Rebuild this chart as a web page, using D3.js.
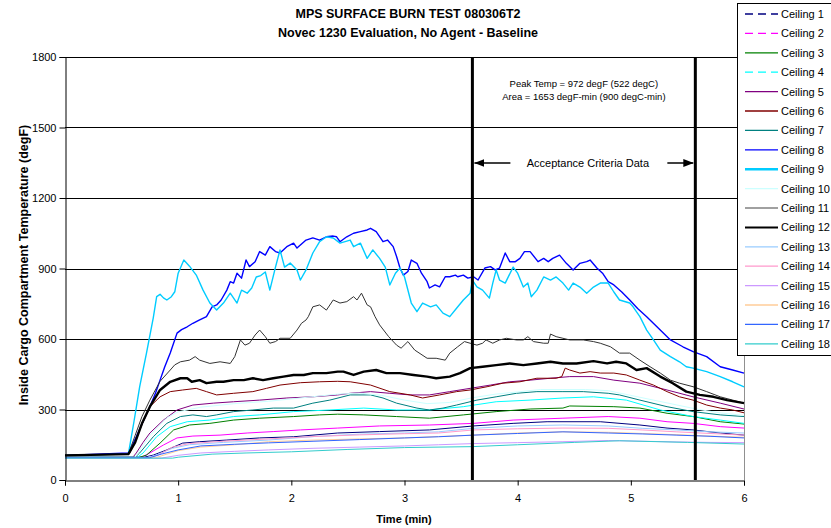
<!DOCTYPE html>
<html>
<head>
<meta charset="utf-8">
<script src="https://cdn.jsdelivr.net/npm/d3@7/dist/d3.min.js"></script>
<style>
  html, body { margin: 0; padding: 0; background: #fff; }
  svg { display: block; font-family: "Liberation Sans", Arial, sans-serif; }
</style>
</head>
<body>
<svg id="chart" width="831" height="528"></svg>
<script>
// Ceiling thermocouple temperatures, [time (min), temperature (degF)]
const ceiling1 = [[0,97],[0.70,97],[0.78,106],[0.90,128],[1.04,157],[1.19,163],[1.43,170],[1.72,179],[2.02,184],[2.41,200],[2.78,206],[3.22,213],[3.61,230],[3.96,241],[4.26,248],[4.73,248],[5.08,234],[5.32,221],[5.55,213],[5.79,200],[6.0,191]];
const ceiling2 = [[0,97],[0.68,97],[0.75,115],[0.87,149],[0.99,179],[1.13,187],[1.37,191],[1.61,200],[1.84,206],[2.08,213],[2.41,221],[2.78,230],[3.22,234],[3.61,241],[3.96,255],[4.40,263],[4.80,270],[5.08,263],[5.32,248],[5.55,241],[5.79,227],[6.0,221]];
const ceiling3 = [[0,97],[0.66,97],[0.72,106],[0.84,157],[0.96,213],[1.10,234],[1.28,241],[1.49,255],[1.72,263],[2.02,270],[2.25,277],[2.41,280],[2.64,277],[2.93,270],[3.22,263],[3.52,277],[3.81,291],[4.11,302],[4.40,306],[4.46,315],[4.85,312],[5.08,306],[5.32,284],[5.55,270],[5.79,248],[6.0,238]];
const ceiling4 = [[0,97],[0.64,97],[0.69,115],[0.81,184],[0.93,227],[1.08,248],[1.28,255],[1.49,270],[1.72,277],[2.02,291],[2.34,298],[2.64,306],[2.93,298],[3.22,298],[3.52,312],[3.81,333],[4.11,340],[4.40,349],[4.67,354],[4.96,340],[5.26,298],[5.55,270],[5.79,255],[6.0,241]];
const ceiling5 = [[0,97],[0.60,97],[0.63,115],[0.69,160],[0.75,200],[0.87,255],[0.99,298],[1.13,319],[1.31,327],[1.49,333],[1.72,340],[1.96,349],[2.19,354],[2.41,362],[2.52,369],[2.70,376],[2.87,369],[3.05,362],[3.22,362],[3.40,376],[3.58,390],[3.76,404],[3.93,418],[4.11,425],[4.29,433],[4.46,440],[4.67,440],[4.85,425],[5.08,412],[5.32,383],[5.55,354],[5.79,327],[6.0,302]];
const ceiling6 = [[0,105],[0.57,112],[0.62,160],[0.66,213],[0.75,312],[0.84,354],[0.93,376],[1.04,383],[1.16,390],[1.25,376],[1.34,362],[1.49,369],[1.66,376],[1.78,390],[1.90,404],[2.08,414],[2.25,418],[2.41,420],[2.52,418],[2.70,404],[2.87,376],[3.05,362],[3.16,349],[3.31,362],[3.46,376],[3.58,383],[3.73,397],[3.87,412],[4.02,418],[4.17,433],[4.34,433],[4.39,440],[4.42,476],[4.46,468],[4.55,455],[4.64,461],[4.73,455],[4.85,455],[4.96,447],[5.08,425],[5.20,404],[5.32,376],[5.43,354],[5.55,340],[5.67,319],[5.79,306],[5.90,298],[6.0,286]];
const ceiling7 = [[0,97],[0.62,97],[0.66,115],[0.78,184],[0.90,241],[1.02,270],[1.13,277],[1.25,270],[1.34,277],[1.49,291],[1.66,298],[1.84,306],[2.02,306],[2.19,327],[2.34,340],[2.52,362],[2.70,362],[2.81,349],[2.93,327],[3.11,306],[3.22,298],[3.34,306],[3.46,319],[3.64,340],[3.81,354],[3.99,369],[4.17,376],[4.40,376],[4.58,376],[4.80,369],[4.90,362],[5.08,340],[5.32,312],[5.55,291],[5.79,277],[6.0,270]];
const ceiling8 = [[0,105],[0.56,115],[0.63,184],[0.69,250],[0.75,312],[0.80,370],[0.84,425],[0.88,480],[0.93,540],[0.99,625],[1.03,640],[1.08,652],[1.13,667],[1.19,681],[1.25,695],[1.30,737],[1.34,745],[1.38,766],[1.43,808],[1.46,844],[1.49,838],[1.52,880],[1.56,859],[1.60,936],[1.63,908],[1.68,929],[1.72,972],[1.77,957],[1.81,993],[1.86,972],[1.90,966],[1.96,993],[2.02,1008],[2.05,987],[2.13,1021],[2.19,1030],[2.25,1021],[2.31,1035],[2.37,1038],[2.40,1035],[2.43,1014],[2.49,1035],[2.55,1050],[2.61,1057],[2.67,1064],[2.70,1071],[2.75,1057],[2.81,1014],[2.85,1021],[2.90,993],[2.93,951],[2.96,902],[2.99,872],[3.03,887],[3.06,936],[3.11,922],[3.15,880],[3.20,844],[3.22,817],[3.27,830],[3.31,822],[3.36,865],[3.40,865],[3.45,872],[3.47,865],[3.52,872],[3.56,859],[3.61,865],[3.65,851],[3.71,902],[3.76,908],[3.80,894],[3.84,902],[3.89,966],[3.93,929],[3.98,929],[4.02,943],[4.06,972],[4.11,972],[4.18,929],[4.23,943],[4.27,929],[4.31,943],[4.37,957],[4.43,922],[4.49,894],[4.55,922],[4.61,929],[4.64,936],[4.70,902],[4.75,880],[4.80,844],[4.85,830],[4.92,800],[4.99,766],[5.06,730],[5.14,695],[5.26,638],[5.35,596],[5.46,567],[5.55,546],[5.67,525],[5.79,482],[5.90,468],[6.0,455]];
const ceiling9 = [[0,105],[0.56,110],[0.61,250],[0.66,397],[0.72,540],[0.78,690],[0.81,780],[0.84,790],[0.87,775],[0.90,766],[0.94,780],[0.97,801],[1.00,880],[1.05,936],[1.10,910],[1.16,872],[1.22,808],[1.28,753],[1.34,723],[1.40,753],[1.46,795],[1.52,753],[1.56,808],[1.61,795],[1.65,817],[1.69,864],[1.73,870],[1.77,885],[1.81,808],[1.86,906],[1.90,979],[1.94,906],[1.99,923],[2.05,894],[2.08,851],[2.13,894],[2.19,966],[2.25,1014],[2.31,1035],[2.37,1030],[2.43,1008],[2.52,1021],[2.55,993],[2.61,1008],[2.67,943],[2.72,979],[2.78,943],[2.83,906],[2.87,830],[2.92,880],[2.96,902],[3.00,864],[3.06,753],[3.11,716],[3.16,753],[3.23,737],[3.28,745],[3.34,710],[3.40,695],[3.46,731],[3.52,766],[3.58,795],[3.60,851],[3.64,822],[3.69,808],[3.75,774],[3.78,838],[3.81,894],[3.84,851],[3.89,838],[3.96,906],[4.00,880],[4.05,821],[4.09,838],[4.12,780],[4.17,808],[4.23,864],[4.29,851],[4.34,864],[4.40,838],[4.45,808],[4.49,838],[4.55,821],[4.61,795],[4.67,821],[4.73,838],[4.80,838],[4.85,800],[4.90,766],[4.99,753],[5.02,737],[5.08,695],[5.14,638],[5.20,596],[5.26,553],[5.35,525],[5.43,503],[5.49,482],[5.55,476],[5.67,461],[5.79,440],[5.90,418],[6.0,396]];
const ceiling10 = [[0,97],[0.62,97],[0.75,190],[0.90,265],[1.00,290],[1.20,310],[1.50,325],[1.80,335],[2.00,345],[2.20,355],[2.40,365],[2.60,370],[2.80,360],[3.00,340],[3.20,325],[3.40,330],[3.60,350],[3.80,365],[4.00,375],[4.20,385],[4.40,385],[4.60,385],[4.80,380],[5.00,360],[5.20,340],[5.40,320],[5.60,300],[5.80,285],[6.0,275]];
const ceiling11 = [[0,105],[0.56,110],[0.62,190],[0.68,270],[0.75,340],[0.84,420],[0.93,468],[0.97,490],[1.02,503],[1.10,510],[1.15,525],[1.19,510],[1.28,496],[1.37,503],[1.46,496],[1.50,525],[1.55,596],[1.59,574],[1.63,582],[1.68,617],[1.72,638],[1.77,610],[1.81,582],[1.86,589],[1.90,603],[1.99,603],[2.05,638],[2.09,667],[2.13,681],[2.15,695],[2.19,737],[2.25,745],[2.31,723],[2.37,766],[2.43,753],[2.49,759],[2.55,780],[2.58,766],[2.62,795],[2.67,745],[2.70,737],[2.74,695],[2.78,660],[2.86,610],[2.93,574],[2.97,561],[3.03,589],[3.09,553],[3.20,518],[3.28,518],[3.36,510],[3.40,540],[3.47,567],[3.53,589],[3.58,582],[3.64,574],[3.69,582],[3.72,596],[3.78,582],[3.84,596],[3.90,603],[3.99,596],[4.05,596],[4.09,610],[4.14,589],[4.23,582],[4.27,582],[4.29,621],[4.34,610],[4.40,603],[4.46,596],[4.58,596],[4.67,589],[4.73,582],[4.82,567],[4.90,540],[4.99,540],[5.08,510],[5.17,482],[5.26,455],[5.35,425],[5.43,412],[5.55,397],[5.67,376],[5.79,354],[5.90,340],[6.0,327]];
const ceiling12 = [[0,105],[0.56,110],[0.62,160],[0.68,240],[0.75,312],[0.84,383],[0.93,418],[1.02,433],[1.08,433],[1.12,418],[1.19,425],[1.25,412],[1.34,418],[1.40,418],[1.49,425],[1.58,425],[1.66,433],[1.75,425],[1.84,433],[1.93,440],[2.02,447],[2.11,447],[2.19,455],[2.31,455],[2.41,461],[2.46,461],[2.55,447],[2.64,461],[2.75,468],[2.84,455],[2.96,455],[3.08,447],[3.20,440],[3.28,433],[3.40,440],[3.49,455],[3.58,476],[3.69,482],[3.81,489],[3.93,496],[4.05,489],[4.17,496],[4.29,503],[4.40,496],[4.52,496],[4.67,506],[4.79,496],[4.87,503],[4.96,496],[5.05,468],[5.14,476],[5.26,440],[5.37,412],[5.49,376],[5.61,362],[5.73,354],[5.85,340],[6.0,327]];
const ceiling13 = [[0,95],[0.72,95],[0.80,105],[0.95,135],[1.10,150],[1.40,160],[1.80,170],[2.20,185],[2.60,195],[3.00,200],[3.30,205],[3.61,220],[4.00,230],[4.40,234],[4.80,230],[5.10,220],[5.40,213],[5.70,205],[6.0,200]];
const ceiling14 = [[0,95],[0.74,95],[0.82,105],[0.95,140],[1.10,155],[1.40,165],[1.80,175],[2.20,185],[2.60,192],[3.00,197],[3.30,200],[3.61,213],[4.00,218],[4.40,221],[4.80,220],[5.10,213],[5.40,205],[5.70,198],[6.0,191]];
const ceiling15 = [[0,93],[0.85,93],[1.00,105],[1.20,115],[1.50,122],[1.80,128],[2.20,135],[2.60,140],[3.00,145],[3.30,150],[3.61,155],[4.00,159],[4.40,163],[4.80,168],[5.10,165],[5.40,162],[5.70,160],[6.0,159]];
const ceiling16 = [[0,95],[0.80,95],[0.90,110],[1.00,125],[1.20,140],[1.50,150],[1.80,163],[2.20,170],[2.60,175],[3.00,179],[3.30,185],[3.61,191],[4.00,200],[4.40,205],[4.80,203],[5.10,198],[5.40,193],[5.70,187],[6.0,182]];
const ceiling17 = [[0,95],[0.75,95],[0.85,110],[1.00,128],[1.20,145],[1.50,152],[1.80,158],[2.20,165],[2.60,172],[3.00,179],[3.30,184],[3.61,191],[4.00,198],[4.40,205],[4.80,200],[5.10,196],[5.40,191],[5.70,186],[6.0,179]];
const ceiling18 = [[0,93],[0.95,93],[1.00,97],[1.30,110],[1.60,115],[2.00,120],[2.50,130],[3.00,138],[3.60,142],[4.00,150],[4.50,160],[4.90,167],[5.50,160],[6.0,153]];

const seriesNames = ["Ceiling 1","Ceiling 2","Ceiling 3","Ceiling 4","Ceiling 5","Ceiling 6","Ceiling 7","Ceiling 8","Ceiling 9","Ceiling 10","Ceiling 11","Ceiling 12","Ceiling 13","Ceiling 14","Ceiling 15","Ceiling 16","Ceiling 17","Ceiling 18"];
const seriesData = [ceiling1, ceiling2, ceiling3, ceiling4, ceiling5, ceiling6, ceiling7, ceiling8, ceiling9, ceiling10, ceiling11, ceiling12, ceiling13, ceiling14, ceiling15, ceiling16, ceiling17, ceiling18];

const xTicks = [0, 1, 2, 3, 4, 5, 6];
const yTicks = [0, 300, 600, 900, 1200, 1500, 1800];
const windowStart = 3.6;   // acceptance criteria window (min)
const windowEnd = 5.57;

// Line styling per series
const colors = ["#000080","#FF00FF","#008000","#00FFFF","#800080","#800000","#008080","#0000FF","#00CCFF","#CCFFFF","#333333","#000000","#99CCFF","#FF99CC","#CC99FF","#FFCC99","#3366FF","#33CCCC"];
const legendColors = ["#000080","#FF00FF","#008000","#00FFFF","#800080","#800000","#008080","#0000FF","#00CCFF","#CCFFFF","#808080","#000000","#99CCFF","#FF99CC","#CC99FF","#FFCC99","#3366FF","#33CCCC"];
const widths = [1,1,1,1,1,1,1,1.4,1.4,1,1,2.4,1,1,1,1,1,1];
const dashed = [true,true,false,true,false,false,false,false,false,false,false,false,false,false,false,false,false,false];

const svg = d3.select("#chart");
const plotLeft = 65, plotRight = 744, plotTop = 57, plotBottom = 480;

const x = d3.scaleLinear().domain([0, 6]).range([plotLeft, plotRight]);
const y = d3.scaleLinear().domain([0, 1800]).range([plotBottom, plotTop]);

// Plot area border (right side grey)
svg.append("line").attr("x1", plotRight + 0.5).attr("x2", plotRight + 0.5)
  .attr("y1", plotTop).attr("y2", plotBottom).attr("stroke", "#909090").attr("stroke-width", 1);

// Horizontal gridlines
svg.append("g").selectAll("line").data(yTicks.filter(d => d > 0)).join("line")
  .attr("x1", plotLeft).attr("x2", plotRight)
  .attr("y1", d => Math.round(y(d)) + 0.5).attr("y2", d => Math.round(y(d)) + 0.5)
  .attr("stroke", "#000").attr("stroke-width", 1);

// Series lines
const line = d3.line().x(d => x(d[0])).y(d => y(d[1]));
svg.append("g").selectAll("path").data(seriesData).join("path")
  .attr("d", d => line(d))
  .attr("fill", "none")
  .attr("stroke", (d, i) => colors[i])
  .attr("stroke-width", (d, i) => widths[i])
  .attr("stroke-linejoin", "round");

// Acceptance window boundaries
[windowStart, windowEnd].forEach(t => {
  svg.append("line").attr("x1", x(t)).attr("x2", x(t))
    .attr("y1", plotTop).attr("y2", plotBottom)
    .attr("stroke", "#000").attr("stroke-width", 3);
});

// Axes
const yAxis = d3.axisLeft(y).tickValues(yTicks).tickFormat(d3.format("d")).tickSize(6).tickPadding(3);
const gy = svg.append("g").attr("transform", `translate(${plotLeft + 0.5},0)`).call(yAxis);
gy.select(".domain").attr("stroke", "#000");
gy.selectAll(".tick line").attr("stroke", "#000");
gy.selectAll("text").attr("font-size", 11).attr("fill", "#000").attr("font-family", "Liberation Sans, Arial, sans-serif");

const xAxis = d3.axisBottom(x).tickValues(xTicks).tickFormat(d3.format("d")).tickSize(5).tickPadding(9);
const gx = svg.append("g").attr("transform", `translate(0,${plotBottom + 0.5})`).call(xAxis);
gx.select(".domain").attr("stroke", "#000");
gx.selectAll(".tick line").attr("stroke", "#000");
gx.selectAll("text").attr("font-size", 11).attr("fill", "#000").attr("font-family", "Liberation Sans, Arial, sans-serif");

// Titles
svg.append("text").attr("x", 408).attr("y", 18).attr("text-anchor", "middle")
  .attr("font-size", 12.5).attr("font-weight", "bold").text("MPS SURFACE BURN TEST 080306T2");
svg.append("text").attr("x", 408).attr("y", 37).attr("text-anchor", "middle")
  .attr("font-size", 12.5).attr("font-weight", "bold").text("Novec 1230 Evaluation, No Agent - Baseline");
svg.append("text").attr("x", 404).attr("y", 523).attr("text-anchor", "middle")
  .attr("font-size", 11).attr("font-weight", "bold").text("Time (min)");
svg.append("text").attr("transform", "translate(28,265) rotate(-90)").attr("text-anchor", "middle")
  .attr("font-size", 12.5).attr("font-weight", "bold").text("Inside Cargo Compartment Temperature (degF)");

// Annotations
const mid = (x(windowStart) + x(windowEnd)) / 2;
svg.append("text").attr("x", mid).attr("y", 87).attr("text-anchor", "middle")
  .attr("font-size", 9.5).text("Peak Temp = 972 degF (522 degC)");
svg.append("text").attr("x", mid).attr("y", 100).attr("text-anchor", "middle")
  .attr("font-size", 9.5).text("Area = 1653 degF-min (900 degC-min)");
svg.append("text").attr("x", mid + 4).attr("y", 167).attr("text-anchor", "middle")
  .attr("font-size", 11).text("Acceptance Criteria Data");

const arrowY = 163;
const defs = svg.append("defs");
defs.append("marker").attr("id", "head").attr("viewBox", "0 0 10 8")
  .attr("refX", 10).attr("refY", 4).attr("markerWidth", 10).attr("markerHeight", 8)
  .attr("markerUnits", "userSpaceOnUse").attr("orient", "auto")
  .append("path").attr("d", "M0,0 L10,4 L0,8 Z").attr("fill", "#000");
svg.append("line").attr("x1", x(windowStart) + 38).attr("x2", x(windowStart) + 2)
  .attr("y1", arrowY).attr("y2", arrowY).attr("stroke", "#000").attr("stroke-width", 1.5)
  .attr("marker-end", "url(#head)");
svg.append("line").attr("x1", x(windowEnd) - 28).attr("x2", x(windowEnd) - 2)
  .attr("y1", arrowY).attr("y2", arrowY).attr("stroke", "#000").attr("stroke-width", 1.5)
  .attr("marker-end", "url(#head)");

// Legend
const lg = svg.append("g");
lg.append("rect").attr("x", 737.5).attr("y", 3.5).attr("width", 100).attr("height", 352)
  .attr("fill", "#fff").attr("stroke", "#000").attr("stroke-width", 1);
const rowH = 19.4;
const items = lg.selectAll("g.item").data(seriesNames).join("g")
  .attr("transform", (d, i) => `translate(0,${14 + i * rowH})`);
items.append("line").attr("x1", 745).attr("x2", 778).attr("y1", 0).attr("y2", 0)
  .attr("stroke", (d, i) => legendColors[i])
  .attr("stroke-width", (d, i) => i === 8 ? 2.5 : (i === 11 ? 2 : 1.3))
  .attr("stroke-dasharray", (d, i) => dashed[i] ? "8,5" : null);
items.append("text").attr("x", 781).attr("y", 4).attr("font-size", 11).text(d => d);
</script>
</body>
</html>
